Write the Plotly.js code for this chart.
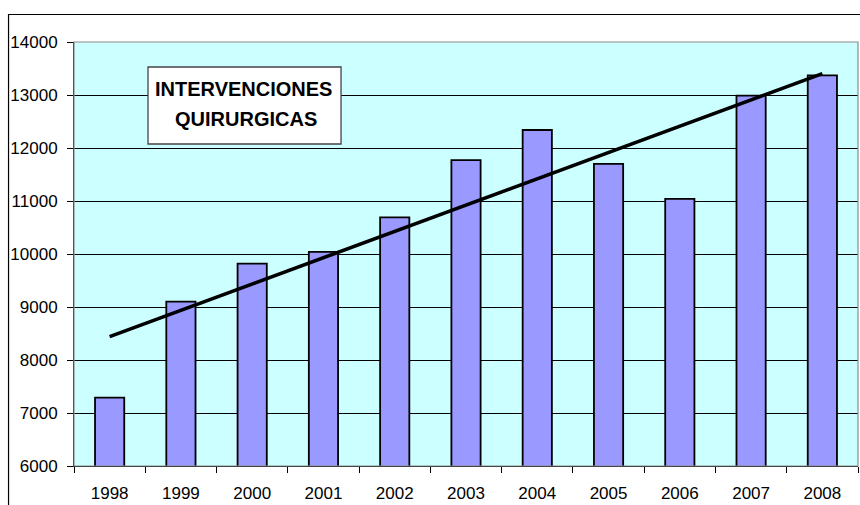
<!DOCTYPE html>
<html>
<head>
<meta charset="utf-8">
<script src="https://cdn.plot.ly/plotly-3.0.1.min.js"></script>
<style>html,body{margin:0;padding:0;background:#fff;}#chart{width:860px;height:505px;}</style>
</head>
<body>
<div id="chart"></div>
<script>
var years = ['1998','1999','2000','2001','2002','2003','2004','2005','2006','2007','2008'];
var intervenciones = [7290, 9100, 9820, 10040, 10690, 11770, 12340, 11700, 11040, 12990, 13370];
var titleLines = ['INTERVENCIONES', 'QUIRURGICAS'];

// linear trendline (least squares) from the data
var n = intervenciones.length;
var mx = (n - 1) / 2, my = intervenciones.reduce(function(a,b){return a+b;},0) / n;
var sxy = 0, sxx = 0;
for (var i = 0; i < n; i++) { sxy += (i - mx) * (intervenciones[i] - my); sxx += (i - mx) * (i - mx); }
var slope = sxy / sxx, icpt = my - slope * mx;
var trendX = [years[0], years[n-1]];
var trendY = [icpt, icpt + slope * (n - 1)];

var bars = {
  type: 'bar', x: years, y: intervenciones,
  marker: {color: '#9999FF', line: {color: '#000000', width: 1.8}},
  hoverinfo: 'x+y'
};
var trend = {
  type: 'scatter', mode: 'lines', x: trendX, y: trendY,
  line: {color: '#000000', width: 3.6}, hoverinfo: 'skip'
};

var fontFam = '"Liberation Sans", Arial, sans-serif';
var layout = {
  width: 860, height: 505,
  margin: {l: 74, r: 2, t: 42, b: 39},
  paper_bgcolor: '#ffffff', plot_bgcolor: '#CCFFFF',
  showlegend: false, bargap: 0.59,
  font: {family: fontFam, size: 17, color: '#000'},
  xaxis: {
    type: 'category', tickson: 'boundaries', ticks: 'outside', ticklen: 6, tickcolor: '#000',
    showgrid: false, showline: true, linecolor: '#000', linewidth: 1,
    tickfont: {family: fontFam, size: 17, color: '#000'}, ticklabelstandoff: 12,
    fixedrange: true
  },
  yaxis: {
    range: [6000, 14000], dtick: 1000, tickformat: 'd', ticks: 'outside', ticklen: 6, tickcolor: '#000',
    showgrid: true, gridcolor: '#000', gridwidth: 1, zeroline: false,
    showline: true, linecolor: '#000', linewidth: 1,
    tickfont: {family: fontFam, size: 17, color: '#000'}, ticklabelstandoff: 6,
    fixedrange: true
  },
  shapes: [
    {type: 'rect', xref: 'paper', yref: 'paper', x0: 0, x1: 1, y0: 0, y1: 1,
     line: {color: '#8c8c8c', width: 1.2}, layer: 'above'},
    {type: 'rect', xref: 'paper', yref: 'paper', x0: -0.0835, x1: 1.01, y0: -0.2, y1: 1.0649,
     line: {color: '#000', width: 1.2}, fillcolor: 'rgba(0,0,0,0)', layer: 'above'},
    {type: 'rect', xref: 'paper', yref: 'paper', x0: 0.0944, x1: 0.3406, y0: 0.7594, y1: 0.941,
     line: {color: '#444', width: 1.3}, fillcolor: '#ffffff', layer: 'above'}
  ],
  annotations: [
    {xref: 'paper', yref: 'paper', x: 0.2168, y: 0.889, text: '<b>' + titleLines[0] + '</b>',
     showarrow: false, xanchor: 'center', yanchor: 'middle',
     font: {family: fontFam, size: 20, color: '#000'}},
    {xref: 'paper', yref: 'paper', x: 0.22, y: 0.818, text: '<b>' + titleLines[1] + '</b>',
     showarrow: false, xanchor: 'center', yanchor: 'middle',
     font: {family: fontFam, size: 20, color: '#000'}}
  ]
};
Plotly.newPlot('chart', [bars, trend], layout, {displayModeBar: false, staticPlot: true});
</script>
</body>
</html>
